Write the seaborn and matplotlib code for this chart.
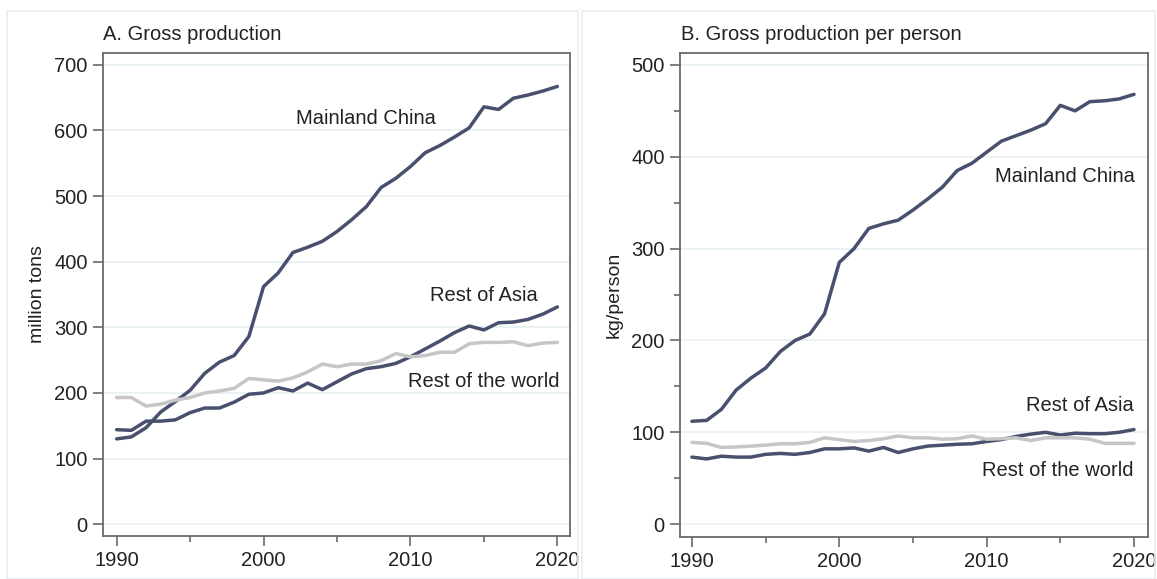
import numpy as np
import pandas as pd
import matplotlib
matplotlib.use("Agg")
import matplotlib.pyplot as plt
import seaborn as sns
from matplotlib.patches import Rectangle
from matplotlib.ticker import MultipleLocator

years = list(range(1990, 2021))

# A. gross production, million tons
china_total = [130, 133, 147, 171, 187, 204, 230, 247, 257, 286, 362, 383, 414, 422, 431,
               446, 464, 484, 513, 527, 545, 566, 577, 590, 604, 636, 632, 649, 654, 660, 667]
asia_total = [144, 143, 157, 157, 159, 170, 177, 177, 186, 198, 200, 208, 203, 215, 205,
              217, 229, 237, 240, 245, 255, 267, 279, 292, 302, 296, 307, 308, 312, 320, 331]
world_total = [193, 193, 180, 183, 189, 193, 200, 203, 207, 222, 220, 218, 223, 232, 244,
               240, 244, 244, 249, 260, 255, 257, 262, 262, 275, 277, 277, 278, 272, 276, 277]

# B. gross production per person, kg
china_pc = [112, 113, 125, 146, 159, 170, 188, 200, 207, 229, 285, 300, 322, 327, 331,
            342, 354, 367, 385, 393, 405, 417, 423, 429, 436, 456, 450, 460, 461, 463, 468]
asia_pc = [73, 71, 74, 73, 73, 76, 77, 76, 78, 82, 82, 83, 79.5, 83.5, 78,
           82, 85, 86, 87, 87.5, 90, 92, 95.5, 98, 100, 97, 99, 98.5, 98.5, 100, 103]
world_pc = [89, 88, 83.5, 84, 85, 86, 87.5, 87.5, 89, 94, 92, 90, 91, 93, 96,
            94, 94, 92.5, 93, 96, 92.5, 93, 94, 91, 94, 94, 94, 92.5, 88, 88, 88]

series = ["Mainland China", "Rest of Asia", "Rest of the world"]

df_a = pd.DataFrame({"year": years * 3,
                     "value": china_total + asia_total + world_total,
                     "region": np.repeat(series, len(years))})
df_b = pd.DataFrame({"year": years * 3,
                     "value": china_pc + asia_pc + world_pc,
                     "region": np.repeat(series, len(years))})

navy = "#48506e"
grey = "#c6c6c6"
palette = {"Mainland China": navy, "Rest of Asia": navy, "Rest of the world": grey}

sns.set_style("white")
plt.rcParams["font.family"] = ["Liberation Sans", "DejaVu Sans"]

fig = plt.figure(figsize=(11.57, 5.79), dpi=100)
W, H = 1157, 579

# faint panel boxes
for x0, x1 in [(7, 578), (582, 1155)]:
    fig.patches.append(Rectangle((x0 / W, 0), (x1 - x0) / W, (H - 11) / H,
                                 transform=fig.transFigure, fill=False,
                                 edgecolor="#e6eef1", lw=1.2))

ax_a = fig.add_axes([103 / W, 1 - 536 / H, (570 - 103) / W, (536 - 53) / H])
ax_b = fig.add_axes([680 / W, 1 - 537 / H, (1148 - 680) / W, (537 - 53) / H])

frame = "#6a6a6a"
txt = "#222222"
for ax, df in [(ax_a, df_a), (ax_b, df_b)]:
    sns.lineplot(data=df, x="year", y="value", hue="region", palette=palette,
                 linewidth=2.5, legend=False, ax=ax)
    for s in ax.spines.values():
        s.set_color(frame)
        s.set_linewidth(1.3)
    ax.set_xlabel("")
    ax.set_xticks([1990, 2000, 2010, 2020])
    ax.xaxis.set_minor_locator(MultipleLocator(5))
    ax.tick_params(axis="both", which="major", length=7, width=1.2, color=frame,
                   labelsize=14.5, labelcolor=txt, pad=4)
    ax.tick_params(axis="both", which="minor", length=4.5, width=1.2, color=frame)
    ax.tick_params(axis="x", which="both", bottom=True)
    ax.tick_params(axis="y", which="both", left=True)
    ax.grid(axis="y", which="major", color="#e8f0f2", lw=1.2)
    ax.set_axisbelow(True)

ax_a.set_xlim(1989.07, 2020.86)
ax_a.set_ylim(-18, 718)
ax_a.set_yticks(range(0, 701, 100))
ax_a.set_ylabel("million tons", fontsize=14, color=txt)
ax_a.yaxis.set_label_coords(-0.122, 0.5)

ax_b.set_xlim(1989.19, 2020.95)
ax_b.set_ylim(-14, 513)
ax_b.set_yticks(range(0, 501, 100))
ax_b.yaxis.set_minor_locator(MultipleLocator(50))
ax_b.set_ylabel("kg/person", fontsize=14, color=txt)
ax_b.yaxis.set_label_coords(-0.122, 0.5)

fig.text(103 / W, 1 - 34 / H, "A. Gross production", fontsize=14.5, color=txt,
         ha="left", va="center")
fig.text(681 / W, 1 - 34 / H, "B. Gross production per person", fontsize=14.5,
         color=txt, ha="left", va="center")

lab = dict(fontsize=14.5, color=txt, ha="center", va="center")
ax_a.text(2007.0, 618, "Mainland China", **lab)
ax_a.text(2015.0, 349, "Rest of Asia", **lab)
ax_a.text(2015.0, 218, "Rest of the world", **lab)
ax_b.text(2015.3, 378, "Mainland China", **lab)
ax_b.text(2016.3, 129, "Rest of Asia", **lab)
ax_b.text(2014.8, 58, "Rest of the world", **lab)

fig.savefig("out.png", dpi=100, facecolor="white")
